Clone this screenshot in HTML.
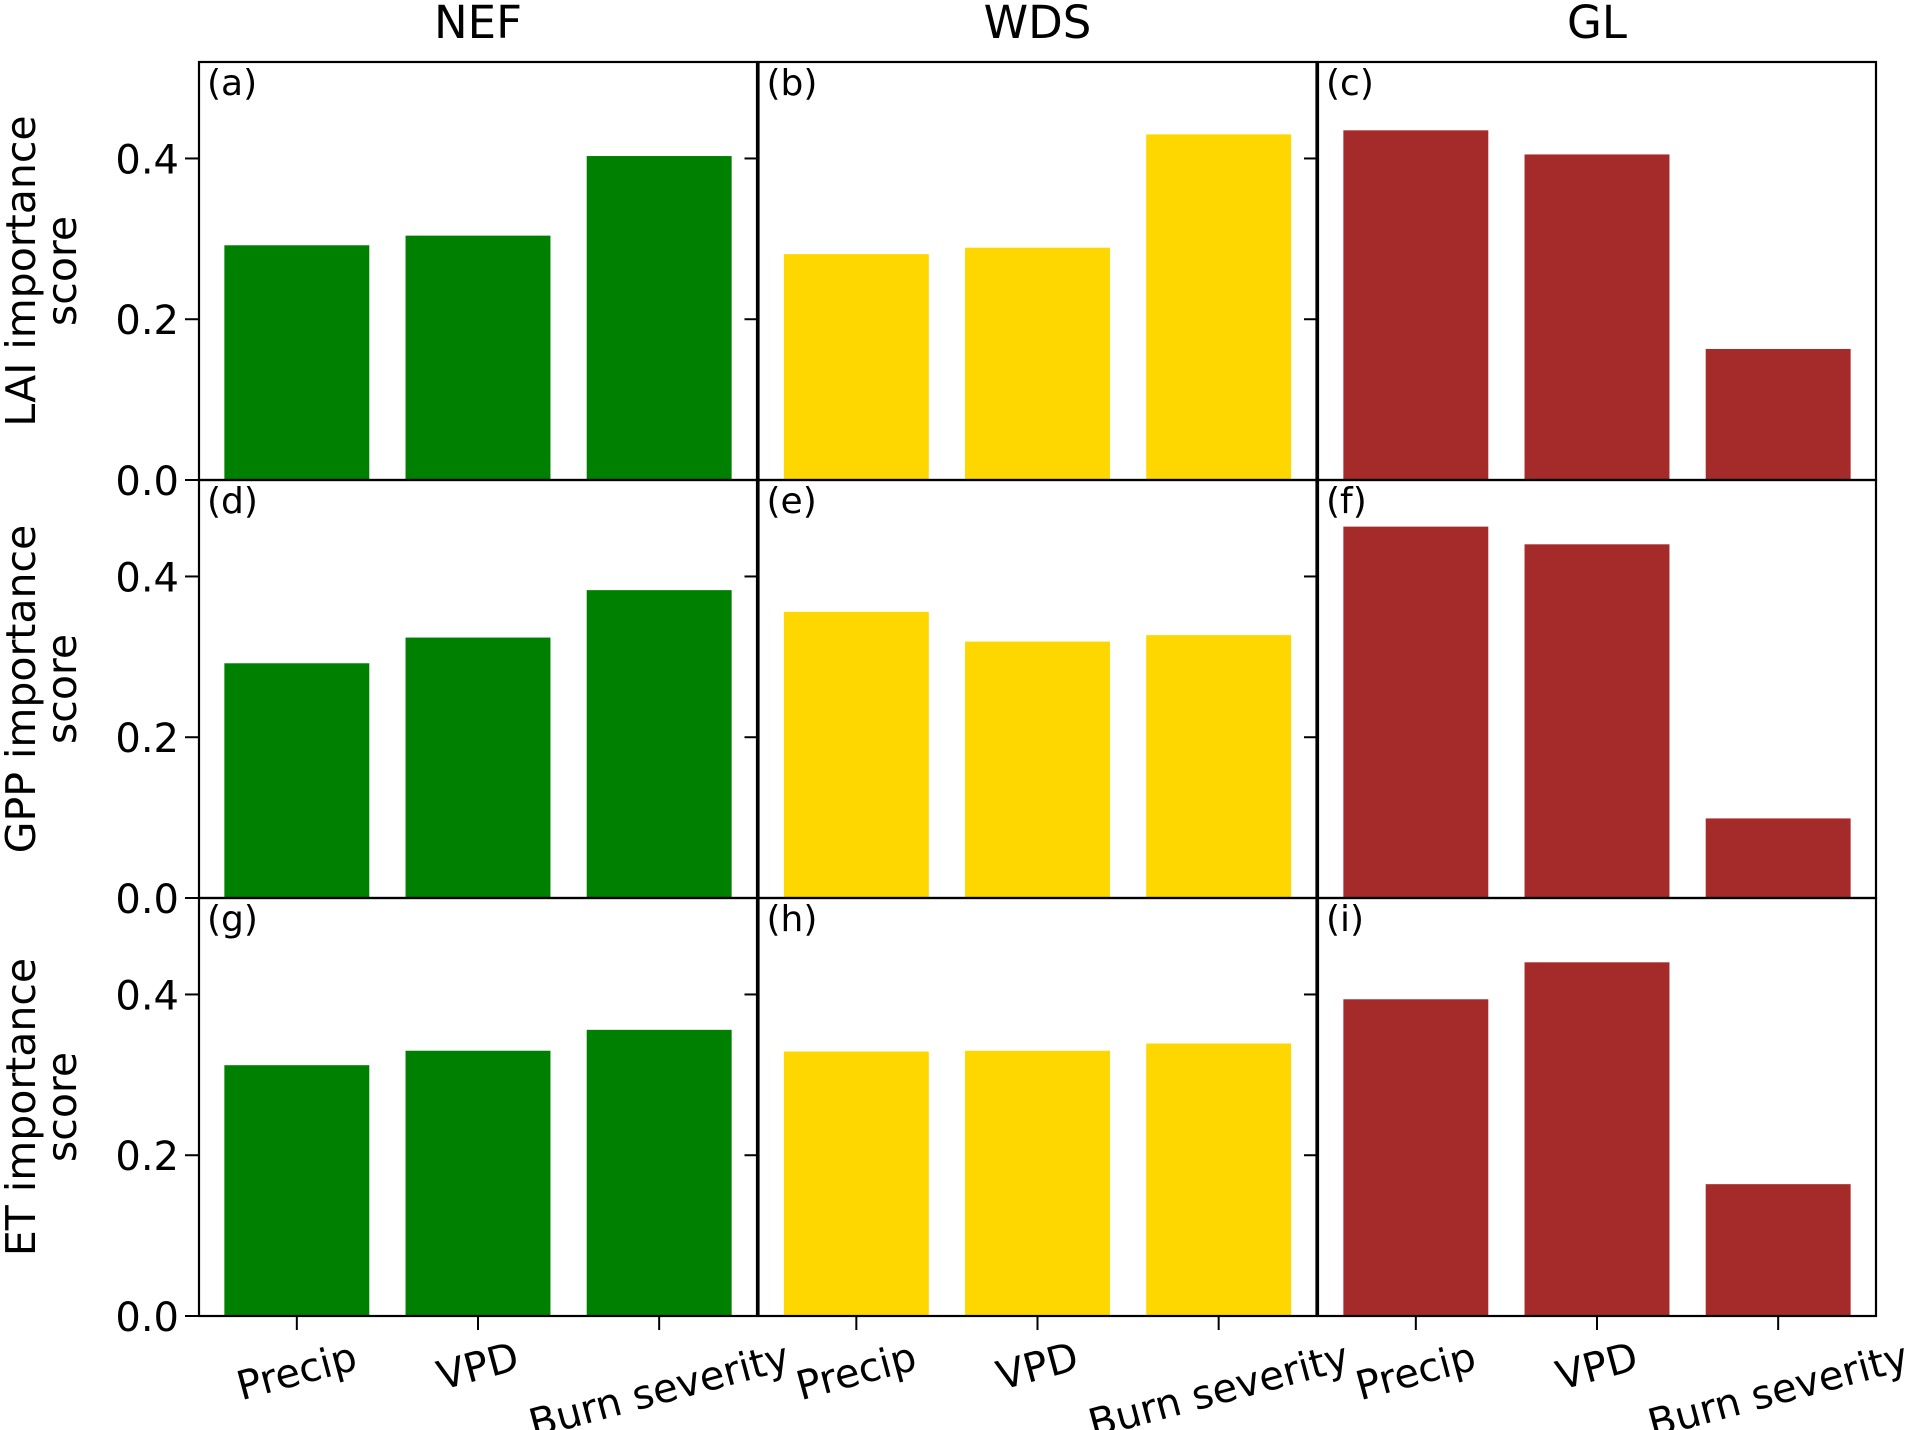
<!DOCTYPE html>
<html><head><meta charset="utf-8"><style>
html,body{margin:0;padding:0;background:#fff}
svg{display:block;font-family:"DejaVu Sans","Liberation Sans",sans-serif}
</style></head><body>
<svg id="chart" width="1913" height="1430" viewBox="0 0 1913 1430" xmlns="http://www.w3.org/2000/svg"></svg>
<script>
const categories = ["Precip", "VPD", "Burn severity"];
const columnTitles = ["NEF", "WDS", "GL"];
const rowLabels = ["LAI importance", "GPP importance", "ET importance"];
const panelLetters = ["(a)","(b)","(c)","(d)","(e)","(f)","(g)","(h)","(i)"];
const colors = ["#008000", "#FFD700", "#A52A2A"];
const yTicks = [0.0, 0.2, 0.4];
const yTickLabels = ["0.0", "0.2", "0.4"];
const laiNEF = [0.292, 0.304, 0.403];
const laiWDS = [0.281, 0.289, 0.430];
const laiGL = [0.435, 0.405, 0.163];
const gppNEF = [0.292, 0.324, 0.383];
const gppWDS = [0.356, 0.319, 0.327];
const gppGL = [0.462, 0.440, 0.099];
const etNEF = [0.312, 0.330, 0.356];
const etWDS = [0.329, 0.330, 0.339];
const etGL = [0.394, 0.440, 0.164];
const series = [[laiNEF, laiWDS, laiGL], [gppNEF, gppWDS, gppGL], [etNEF, etWDS, etGL]];

const NS = "http://www.w3.org/2000/svg";
const svg = document.getElementById("chart");
const colX = [199, 758.5, 1318];
const panelW = 558;
const rowY = [62, 480, 898];
const panelH = 418;
const yMax = 0.52;
const xMin = -0.54, xMax = 2.54;
function mk(tag, attrs, parent) {
  const e = document.createElementNS(NS, tag);
  for (const k in attrs) e.setAttribute(k, attrs[k]);
  (parent || svg).appendChild(e);
  return e;
}
function xScale(c, v) { return colX[c] + (v - xMin) / (xMax - xMin) * panelW; }
function yScale(r, v) { return rowY[r] + panelH - v / yMax * panelH; }

for (let c = 0; c < 3; c++) {
  const t = mk("text", {x: colX[c] + panelW / 2, y: 38, "text-anchor": "middle", "font-size": 45});
  t.textContent = columnTitles[c];
  
  
}

for (let r = 0; r < 3; r++) {
  const cy = rowY[r] + panelH / 2;
  const l1 = mk("text", {x: 0, y: 0, transform: `translate(35,${cy}) rotate(-90)`, "text-anchor": "middle", "font-size": 41});
  l1.textContent = rowLabels[r];
  
  
  const l2 = mk("text", {x: 0, y: 0, transform: `translate(76,${cy}) rotate(-90)`, "text-anchor": "middle", "font-size": 41});
  l2.textContent = "score";
  
  

  for (let c = 0; c < 3; c++) {
    const g = mk("g", {});
    
    
    const vals = series[r][c];
    for (let i = 0; i < categories.length; i++) {
      const x0 = xScale(c, i - 0.4), x1 = xScale(c, i + 0.4);
      const y0 = yScale(r, vals[i]), yb = yScale(r, 0);
      const b = mk("rect", {x: x0, y: y0, width: x1 - x0, height: yb - y0, fill: colors[c]}, g);
      
      
    }
    mk("rect", {x: colX[c], y: rowY[r], width: panelW, height: panelH, fill: "none", stroke: "#000", "stroke-width": 2.2}, g);
    for (let k = 0; k < yTicks.length; k++) {
      const ty = yScale(r, yTicks[k]);
      mk("line", {x1: colX[c] - 14, x2: colX[c], y1: ty, y2: ty, stroke: "#000", "stroke-width": 2}, g);
      if (c === 0) {
        const tl = mk("text", {x: colX[c] - 20, y: ty + 15, "text-anchor": "end", "font-size": 40}, g);
        tl.textContent = yTickLabels[k];
        
        
      }
    }
    const pl = mk("text", {x: colX[c] + 8, y: rowY[r] + 33, "font-size": 36}, g);
    pl.textContent = panelLetters[r * 3 + c];
    
    
    if (r === 2) {
      for (let i = 0; i < categories.length; i++) {
        const tx = xScale(c, i);
        mk("line", {x1: tx, x2: tx, y1: rowY[r] + panelH, y2: rowY[r] + panelH + 14, stroke: "#000", "stroke-width": 2}, g);
        const xl = mk("text", {x: 0, y: 0, "text-anchor": "middle", "dominant-baseline": "central", "font-size": 40}, g);
        xl.textContent = categories[i];
        
        
        const w = xl.getComputedTextLength();
        const h = 46;
        const a = 15 * Math.PI / 180;
        const cyy = rowY[r] + panelH + 18 + (w * Math.sin(a) + h * Math.cos(a)) / 2;
        xl.setAttribute("transform", `translate(${tx},${cyy}) rotate(-15)`);
      }
    }
  }
}
</script>
</body></html>
